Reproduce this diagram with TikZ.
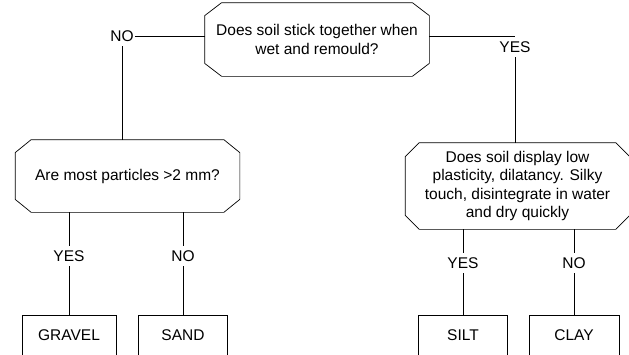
\documentclass[tikz,border=0pt]{standalone}
\usepackage{fontspec}
\setmainfont{Liberation Sans}
\usetikzlibrary{positioning}
\begin{document}
\begin{tikzpicture}[x=1pt,y=1pt,on grid,line width=.7pt,every node/.style={font=\fontsize{15.5pt}{18.5pt}\selectfont}]
\tikzstyle{qbox}=[minimum width=224pt,align=center,inner sep=0pt]
\tikzstyle{leaf}=[draw,minimum height=40pt,inner sep=0pt]
\tikzstyle{ans}=[inner xsep=1pt,inner ysep=4.5pt]
\path[use as bounding box,clip] (0,0) rectangle (629,-354);
\node[qbox,minimum height=73pt] (q1) at (317,-39.5) {Does soil stick together when\\wet and remould?};
\node[ans,above left=3.5pt and 195pt of q1] (no1) {NO};
\node[ans,below right=7.5pt and 198pt of q1] (yes1) {YES};
\node[qbox,minimum height=72pt,below right=140pt and 5.5pt of no1] (q2) {Are most particles >2 mm?};
\node[qbox,minimum height=86pt,below right=139pt and 2.5pt of yes1] (q3) {Does soil display low\\plasticity, dilatancy. Silky\\touch, disintegrate in water\\and dry quickly};
\node[ans,below left=80pt and 58.5pt of q2] (yes2) {YES};
\node[ans,right=114pt of yes2] (no2) {NO};
\node[ans,below left=77pt and 54.5pt of q3] (yes3) {YES};
\node[ans,right=111pt of yes3] (no3) {NO};
\node[leaf,minimum width=94pt,below=79pt of yes2] (gravel) {GRAVEL};
\node[leaf,minimum width=89pt,below=79pt of no2] (sand) {SAND};
\node[leaf,minimum width=89pt,below=72pt of yes3] (silt) {SILT};
\node[leaf,minimum width=90pt,below=72pt of no3] (clay) {CLAY};
\foreach \n/\a/\b in {q1/17/13,q2/16/13,q3/14/14}
  \draw ([xshift=\a pt]\n.north west) -- ([xshift=-\a pt]\n.north east) -- ([yshift=-\b pt]\n.north east) -- ([yshift=\b pt]\n.south east) -- ([xshift=-\a pt]\n.south east) -- ([xshift=\a pt]\n.south west) -- ([yshift=\b pt]\n.south west) -- ([yshift=-\b pt]\n.north west) -- cycle;
\draw (no1) -- (no1 -| q1.west); \draw (no1) -- (no1 |- q2.north);
\draw (q1.east |- yes1.north) -- (yes1.north); \draw (yes1) -- (yes1 |- q3.north);
\draw (yes2 |- q2.south) -- (yes2) -- (gravel); \draw (no2 |- q2.south) -- (no2) -- (sand);
\draw (yes3 |- q3.south) -- (yes3) -- (silt); \draw (no3 |- q3.south) -- (no3) -- (clay);
\end{tikzpicture}
\end{document}
